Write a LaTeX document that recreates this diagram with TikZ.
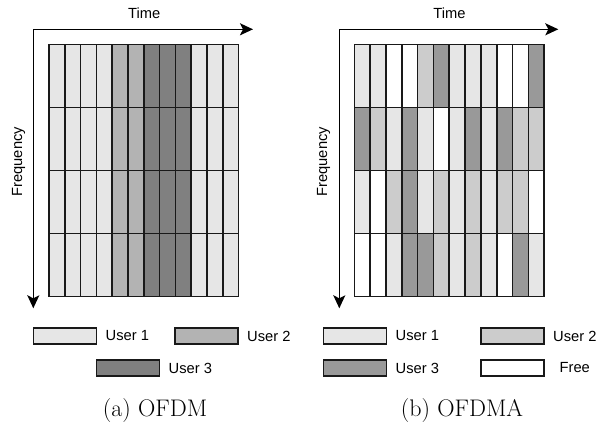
\documentclass[tikz,border=0pt]{standalone}
\usepackage{fontspec}
\newfontfamily\labelfont{Liberation Sans}
\usetikzlibrary{arrows.meta,positioning}

\definecolor{ofdmA}{HTML}{E6E6E6}
\definecolor{ofdmB}{HTML}{B3B3B3}
\definecolor{ofdmC}{HTML}{808080}
\definecolor{ofdmaA}{HTML}{E6E6E6}
\definecolor{ofdmaB}{HTML}{CCCCCC}
\definecolor{ofdmaC}{HTML}{999999}
\definecolor{ofdmaF}{HTML}{FFFFFF}

\tikzset{
  slot/.style={draw=black!90, line width=1.6pt},
  axis/.style={line width=1.4pt, -{Stealth[length=13pt,width=12pt,inset=3pt]}},
  axislabel/.style={font=\labelfont\fontsize{14.7}{17}\selectfont, inner sep=0pt},
  swatch/.style={draw=black!90, line width=1.2pt, minimum width=63pt, minimum height=16pt, inner sep=0pt},
  legendtext/.style={font=\labelfont\fontsize{14.7}{17}\selectfont, minimum width=60pt, inner sep=0pt},
  subcaption/.style={font=\fontsize{24}{29}\selectfont, inner sep=0pt, anchor=base}
}

\begin{document}
\begin{tikzpicture}[x=1pt,y=-1pt]
  \useasboundingbox (0,0) rectangle (598,425);

  % (a) OFDM: one user per column
  \foreach \c [count=\i from 0] in {A,A,A,A,B,B,C,C,C,A,A,A} {
    \foreach \r in {0,...,3} {
      \filldraw[slot, fill=ofdm\c] (49+15.8*\i,44.7+63*\r) rectangle ++(15.8,63);
    }
  }
  \coordinate (origa) at (33.3,29.3);
  \coordinate (timea) at (253,29.3);
  \coordinate (freqa) at (33.3,308.3);
  \draw[axis] (origa) -- (timea);
  \draw[axis] (origa) -- (freqa);
  \node[axislabel, anchor=base] (timelabela) at (144.3,19) {Time};
  \node[axislabel, rotate=90] (freqlabela) at (18.7,161.7) {Frequency};

  % (b) OFDMA: slots shared row by row
  \foreach \cols [count=\r from 0] in {
      {A,A,F,F,B,C,A,A,A,F,F,C},
      {C,B,A,C,A,F,A,C,A,C,B,B},
      {A,F,B,C,A,B,A,B,A,B,B,F},
      {F,F,A,C,C,B,A,B,A,F,C,A}} {
    \foreach \c [count=\i from 0] in \cols {
      \filldraw[slot, fill=ofdma\c] (354.3+15.83*\i,44.7+63*\r) rectangle ++(15.83,63);
    }
  }
  \coordinate (origb) at (339.3,29.3);
  \coordinate (timeb) at (558.3,29.3);
  \coordinate (freqb) at (339.3,308.3);
  \draw[axis] (origb) -- (timeb);
  \draw[axis] (origb) -- (freqb);
  \node[axislabel, anchor=base] (timelabelb) at (449.5,19) {Time};
  \node[axislabel, rotate=90] (freqlabelb) at (323.5,161.7) {Frequency};

  % legends
  \node[swatch, fill=ofdmA] (keyaone) at (65,336) {};
  \node[legendtext, right=0pt of keyaone] (textaone) {User 1};
  \node[swatch, fill=ofdmB] (keyatwo) at (206.5,336) {};
  \node[legendtext, right=0pt of keyatwo] (textatwo) {User 2};
  \node[swatch, fill=ofdmC] (keyathree) at (128,368) {};
  \node[legendtext, right=0pt of keyathree] (textathree) {User 3};

  \node[swatch, fill=ofdmaA] (keybone) at (355,336) {};
  \node[legendtext, right=0pt of keybone] (textbone) {User 1};
  \node[swatch, fill=ofdmaB] (keybtwo) at (512.5,336) {};
  \node[legendtext, right=0pt of keybtwo] (textbtwo) {User 2};
  \node[swatch, fill=ofdmaC] (keybthree) at (355,368) {};
  \node[legendtext, right=0pt of keybthree] (textbthree) {User 3};
  \node[swatch, fill=ofdmaF] (keybfree) at (512.5,368) {};
  \node[legendtext, right=0pt of keybfree] (textbfree) {Free};

  % captions
  \node[subcaption] (capa) at (155,416) {(a) OFDM};
  \node[subcaption] (capb) at (462,416) {(b) OFDMA};
\end{tikzpicture}
\end{document}
